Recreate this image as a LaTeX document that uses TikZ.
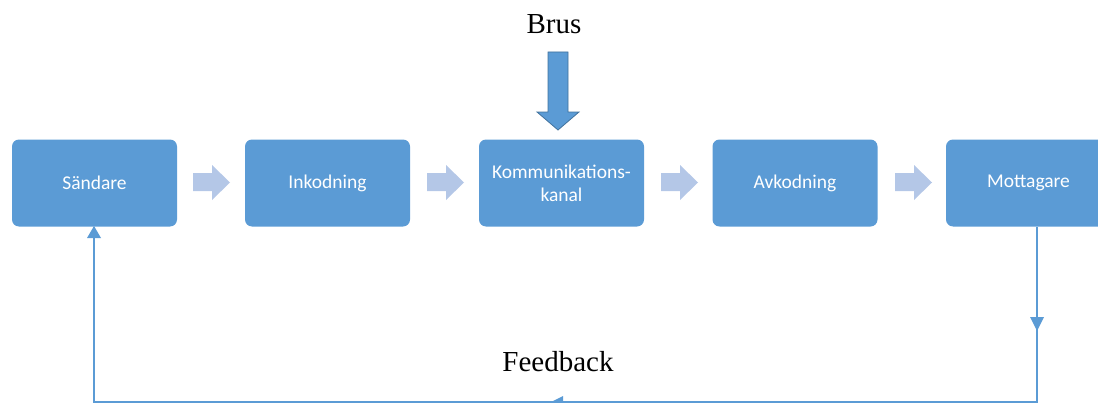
\documentclass[tikz,border=0pt]{standalone}
\usepackage{fontspec}
\setmainfont{Liberation Serif}
\newfontfamily\boxfont{Carlito}
\usetikzlibrary{arrows.meta}
\definecolor{boxblue}{HTML}{5B9BD5}
\definecolor{lightarrow}{HTML}{B4C7E7}
\definecolor{edgeblue}{HTML}{41719C}
\begin{document}
\begin{tikzpicture}[x=1pt,y=-1pt,
  block/.style={fill=boxblue, rounded corners=7pt, minimum width=165pt, minimum height=87pt,
    inner sep=0pt, text=white, font=\boxfont\fontsize{19.5}{23}\selectfont, align=center},
  label/.style={font=\fontsize{29}{32}\selectfont, inner sep=0pt},
  fb/.style={draw=boxblue, line width=1.8pt}]
\useasboundingbox (0,0) rectangle (1098,404);
\node[block] (s) at (94.5,183) {Sändare};
\node[block] (i) at (327.5,183) {Inkodning};
\node[block] (k) at (561.5,183) {Kommunikations-\\kanal};
\node[block] (a) at (795,183) {Avkodning};
\node[block] (m) at (1028.5,183) {Mottagare};
% light arrows between boxes
\foreach \x in {193,427,661,895}{
  \fill[lightarrow] (\x,173) -- (\x+19,173) -- (\x+19,165) -- (\x+37,182.5) -- (\x+19,200) -- (\x+19,191) -- (\x,191) -- cycle;
}
% Brus
\node[label] (brus) at (554,24) {Brus};
\filldraw[fill=boxblue, draw=edgeblue, line width=0.8pt] (548,52) -- (568,52) -- (568,112) -- (579,112) -- (558,130) -- (537,112) -- (548,112) -- cycle;
% feedback loop
\coordinate (mb) at (1037,227);
\coordinate (br) at (1037,402);
\coordinate (bl) at (94,402);
\coordinate (sb) at (94,227);
\draw[fb] (mb) -- (br) -- (bl) -- (sb);
\fill[boxblue] (1030,317) -- (1044,317) -- (1037,331) -- cycle;
\fill[boxblue] (551,402) -- (563,396) -- (563,402) -- cycle;
\fill[boxblue] (94,226) -- (87,238) -- (101,238) -- cycle;
\node[label] (fbl) at (558,362) {Feedback};
\end{tikzpicture}
\end{document}
